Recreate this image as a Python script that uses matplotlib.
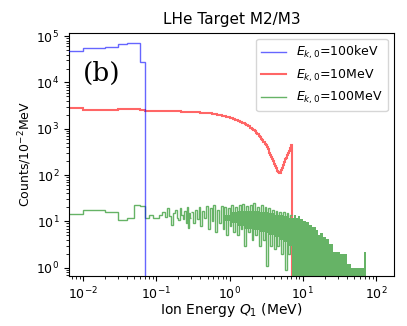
import numpy as np
import matplotlib
matplotlib.use("Agg")
import matplotlib.pyplot as plt

# ---------------- data ----------------
# 100 keV beam: histogram, 0.01 MeV bins
blue_edges = [0.0, 0.01, 0.02, 0.03, 0.04, 0.06, 0.07]
blue_vals = [4.8e4, 5.5e4, 5.9e4, 6.7e4, 7.1e4, 2.8e4]

# 10 MeV beam: histogram
red_edges = ([0.0, 0.01, 0.02, 0.03, 0.04, 0.06, 0.07, 0.08, 0.1, 0.12, 0.15,
              0.18, 0.22, 0.27, 0.33, 0.4, 0.48, 0.57, 0.67, 0.78, 0.9, 1.0]
             + [round(1.0 + 0.1 * i, 1) for i in range(1, 61)] + [7.07])
red_vals = [2760, 2600, 2600, 2620, 2700, 2500, 2450, 2470, 2440, 2420, 2400,
            2380, 2350, 2320, 2280, 2230, 2170, 2100, 2020, 1920, 1800,
            1700, 1620, 1530, 1450, 1370, 1310, 1250, 1190, 1120, 1060,
            1000, 940, 880, 820, 760, 710, 660, 610, 560, 515,
            470, 435, 400, 365, 330, 300, 270, 247, 225, 205,
            185, 170, 155, 143, 132, 124, 117, 112, 109, 110,
            116, 128, 142, 153, 164, 177, 190, 204, 217, 232,
            250, 265, 280, 298, 317, 337, 358, 378, 400, 425, 450]

# 100 MeV beam: individually visible 0.01 MeV bins
green_edges = [round(0.01 * i, 2) for i in range(31)]
green_vals = [14.4, 17.9, 15.6, 10.9, 11.8, 22, 21, 11.8, 13.5, 12, 11.8, 14,
              16, 12.5, 19.5, 13, 8.5, 15, 17.5, 12, 10.5, 19, 14, 11, 17, 9,
              20, 7.3, 15, 12]
# noisy part, grouped bins (spikes)
noisy_edges = [0.30, 0.32, 0.34, 0.36, 0.38, 0.40, 0.42, 0.45, 0.48, 0.51,
               0.54, 0.57, 0.60, 0.64, 0.68, 0.72, 0.76, 0.80, 0.85, 0.90,
               0.95, 1.0, 1.06, 1.12, 1.19, 1.26, 1.34, 1.42, 1.50, 1.59,
               1.68, 1.78, 1.89, 2.0, 2.12, 2.25, 2.38, 2.52, 2.67, 2.83,
               3.0, 3.18, 3.37, 3.57, 3.78, 4.0, 4.24, 4.5, 4.76, 5.05,
               5.35, 5.67, 6.0, 6.36, 6.74, 7.07]
noisy_vals = [16, 9, 18, 11, 20, 8, 17, 12, 21, 7,
              19, 10, 22, 6, 18, 9, 21, 7, 20, 5,
              19, 8, 23, 6, 20, 5, 22, 7, 24, 3,
              21, 6, 22, 4, 25, 5, 20, 3, 22, 4,
              20, 1.1, 19, 3, 18, 2.5, 17, 3, 16, 2,
              16, 0.9, 15, 2, 14]
# dense core of the many fine bins
band_E = [0.8, 1.0, 1.3, 1.6, 2.0, 2.5, 3.0, 3.5, 4.0, 4.8, 5.5, 6.3, 7.07,
          7.5, 8.0, 8.5, 9.2, 10, 11, 12, 13.5, 15, 16, 17, 19, 21, 23, 26,
          29, 32, 36, 40, 45, 52, 60, 66, 68, 72]
band_lo = [10, 9, 8, 7, 6.5, 6, 5.5, 5, 4.5, 4, 3.5, 3, 0,
           0, 0, 0, 0, 0, 0, 0, 0, 0, 0, 0, 0, 0, 0, 0,
           0, 0, 0, 0, 0, 0, 0, 0, 0, 0]
band_hi = [14, 16, 17, 17, 17, 16, 16, 15, 14, 14, 13, 12, 12,
           14, 12, 13, 11, 10, 9.5, 8.5, 7.5, 6.5, 5, 5.5, 4.5, 4.2, 3.2, 2.2,
           2.2, 2, 2, 1.2, 1, 1, 1, 1, 2.2, 1]

labels = [r"$E_{k,0}$=100keV", r"$E_{k,0}$=10MeV", r"$E_{k,0}$=100MeV"]

GREEN = "#66b366"   # 'g' at alpha 0.6 on white, opaque so overlaps stay even

# ---------------- plot ----------------
fig = plt.figure(figsize=(4.07, 3.26), dpi=100)
ax = fig.add_axes([69 / 407, (326 - 276) / 326, 325 / 407, 243.5 / 326])
ax.set_xscale("log")
ax.set_yscale("log")

ax.stairs(blue_vals, blue_edges, color="b", alpha=0.6, lw=1.0,
          baseline=0, label=labels[0], zorder=3)
ax.stairs(red_vals, red_edges, color="r", alpha=0.6, lw=1.5,
          baseline=0, label=labels[1], zorder=1)
ax.stairs(green_vals, green_edges, color=GREEN, lw=1.0,
          baseline=None, label=labels[2], zorder=2)
ax.stairs(noisy_vals, noisy_edges, color=GREEN, lw=1.0,
          baseline=None, zorder=2)
ax.fill_between(band_E, band_lo, band_hi, step="post", color=GREEN,
                lw=0, zorder=2)

ax.set_xlim(0.0064, 176)
ax.set_ylim(0.66, 1.2e5)
ax.tick_params(labelsize=9)
ax.set_title("LHe Target M2/M3", fontsize=11)
ax.set_xlabel(r"Ion Energy $Q_1$ (MeV)", fontsize=10)
ax.set_ylabel(r"Counts/$10^{-2}$MeV", fontsize=9)
ax.xaxis.set_label_coords(0.5, -0.103)
ax.yaxis.set_label_coords(-0.108, 0.5)
ax.text(0.043, 0.83, "(b)", transform=ax.transAxes, fontsize=19,
        family="DejaVu Serif", va="center", ha="left")
ax.legend(loc="upper right", fontsize=9)

fig.savefig("out.png", dpi=100)
